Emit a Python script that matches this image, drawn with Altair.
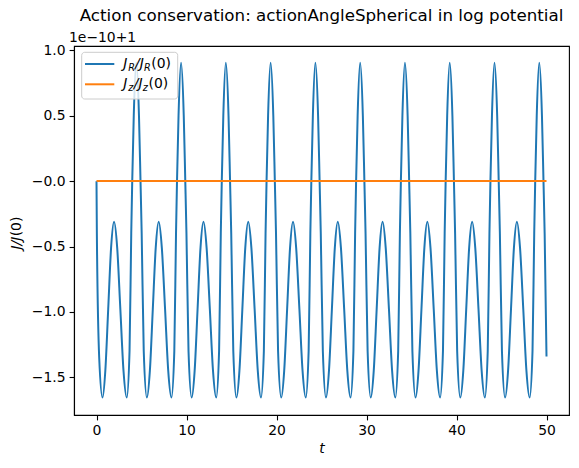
import altair as alt
import pandas as pd

# ---- data (y in units of 1e-10, offset +1) ----
t_R = [
    0.0, 0.04, 0.30, 0.67, 0.98, 1.30, 1.62, 1.95, 2.30, 2.65, 3.00, 3.36, 3.67, 3.86, 3.97, 4.14,
    4.42, 4.72, 4.89, 5.02, 5.25, 5.60, 5.93, 6.255, 6.58, 6.91, 7.26, 7.62, 7.97, 8.325, 8.645, 8.835, 8.945, 9.115,
    9.395, 9.695, 9.865, 9.995, 10.225, 10.575, 10.905, 11.23, 11.555, 11.885, 12.235, 12.595, 12.945, 13.30, 13.62, 13.81, 13.92, 14.09,
    14.37, 14.67, 14.84, 14.97, 15.20, 15.55, 15.88, 16.205, 16.53, 16.86, 17.21, 17.57, 17.92, 18.275, 18.595, 18.785, 18.895, 19.065,
    19.345, 19.645, 19.815, 19.945, 20.175, 20.525, 20.855, 21.18, 21.505, 21.835, 22.185, 22.545, 22.895, 23.25, 23.57, 23.76, 23.87, 24.04,
    24.32, 24.62, 24.79, 24.92, 25.15, 25.50, 25.83, 26.155, 26.48, 26.81, 27.16, 27.52, 27.87, 28.225, 28.545, 28.735, 28.845, 29.015,
    29.295, 29.595, 29.765, 29.895, 30.125, 30.475, 30.805, 31.13, 31.455, 31.785, 32.135, 32.495, 32.845, 33.20, 33.52, 33.71, 33.82, 33.99,
    34.27, 34.57, 34.74, 34.87, 35.10, 35.45, 35.78, 36.105, 36.43, 36.76, 37.11, 37.47, 37.82, 38.175, 38.495, 38.685, 38.795, 38.965,
    39.245, 39.545, 39.715, 39.845, 40.075, 40.425, 40.755, 41.08, 41.405, 41.735, 42.085, 42.445, 42.795, 43.15, 43.47, 43.66, 43.77, 43.94,
    44.22, 44.52, 44.69, 44.82, 45.05, 45.40, 45.73, 46.055, 46.38, 46.71, 47.06, 47.42, 47.77, 48.125, 48.445, 48.635, 48.745, 48.915,
    49.195, 49.495, 49.665, 49.795, 50.0,
]
J_R = [
    0.0, -0.40, -1.35, -1.655, -1.45, -0.98, -0.51, -0.31, -0.51, -0.98, -1.45, -1.655, -1.30, -0.40, 0.0, 0.50,
    0.905, 0.50, 0.0, -0.40, -1.30, -1.655, -1.45, -0.98, -0.51, -0.31, -0.51, -0.98, -1.45, -1.655, -1.30, -0.40, 0.0, 0.50,
    0.905, 0.50, 0.0, -0.40, -1.30, -1.655, -1.45, -0.98, -0.51, -0.31, -0.51, -0.98, -1.45, -1.655, -1.30, -0.40, 0.0, 0.50,
    0.905, 0.50, 0.0, -0.40, -1.30, -1.655, -1.45, -0.98, -0.51, -0.31, -0.51, -0.98, -1.45, -1.655, -1.30, -0.40, 0.0, 0.50,
    0.905, 0.50, 0.0, -0.40, -1.30, -1.655, -1.45, -0.98, -0.51, -0.31, -0.51, -0.98, -1.45, -1.655, -1.30, -0.40, 0.0, 0.50,
    0.905, 0.50, 0.0, -0.40, -1.30, -1.655, -1.45, -0.98, -0.51, -0.31, -0.51, -0.98, -1.45, -1.655, -1.30, -0.40, 0.0, 0.50,
    0.905, 0.50, 0.0, -0.40, -1.30, -1.655, -1.45, -0.98, -0.51, -0.31, -0.51, -0.98, -1.45, -1.655, -1.30, -0.40, 0.0, 0.50,
    0.905, 0.50, 0.0, -0.40, -1.30, -1.655, -1.45, -0.98, -0.51, -0.31, -0.51, -0.98, -1.45, -1.655, -1.30, -0.40, 0.0, 0.50,
    0.905, 0.50, 0.0, -0.40, -1.30, -1.655, -1.45, -0.98, -0.51, -0.31, -0.51, -0.98, -1.45, -1.655, -1.30, -0.40, 0.0, 0.50,
    0.905, 0.50, 0.0, -0.40, -1.30, -1.655, -1.45, -0.98, -0.51, -0.31, -0.51, -0.98, -1.45, -1.655, -1.30, -0.40, 0.0, 0.50,
    0.905, 0.50, 0.0, -0.40, -1.34,
]
t_z = [0.0, 50.0]
J_z = [0.0, 0.0]

series_names = ["J_R/J_R(0)", "J_z/J_z(0)"]
series_colors = ["#1f77b4", "#ff7f0e"]
x_ticks = [0, 10, 20, 30, 40, 50]
y_ticks = [-1.5, -1.0, -0.5, 0.0, 0.5, 1.0]
title_text = "Action conservation: actionAngleSpherical in log potential"
offset_text = "1e\u221210+1"

FONT = "DejaVu Sans"
FS = 13.9
W, H = 495, 369

df_R = pd.DataFrame({"t": t_R, "J": J_R, "series": series_names[0]})
df_z = pd.DataFrame({"t": t_z, "J": J_z, "series": series_names[1]})
dummy = pd.DataFrame({"a": [0]})

x_scale = alt.Scale(domain=[-2.5, 52.5], nice=False, zero=False)
y_scale = alt.Scale(domain=[-1.788, 1.033], nice=False, zero=False)

x_axis = alt.Axis(values=x_ticks, title="t", titleFontStyle="italic", titleFontWeight="normal",
                  titleFontSize=FS, titleFont=FONT, titlePadding=4, labelPadding=4,
                  format="d")
y_axis = alt.Axis(values=y_ticks, title=None, labelPadding=4,
                  labelExpr="datum.value == 0 ? '\u22120.0' : replace(format(datum.value, '.1f'), '-', '\u2212')")

line_R = alt.Chart(df_R).mark_line(color=series_colors[0], strokeWidth=2, interpolate="monotone").encode(
    x=alt.X("t:Q", scale=x_scale, axis=x_axis),
    y=alt.Y("J:Q", scale=y_scale, axis=y_axis),
)
line_z = alt.Chart(df_z).mark_line(color=series_colors[1], strokeWidth=2).encode(
    x=alt.X("t:Q", scale=x_scale, axis=x_axis),
    y=alt.Y("J:Q", scale=y_scale, axis=y_axis),
)

def txt(s, x, y, size=FS, style="normal", dy=0, angle=0, align="left", baseline="alphabetic"):
    kw = dict(font=FONT, fontSize=size, fontStyle=style, color="black", align=align,
              baseline=baseline, dy=dy)
    if angle:
        kw["angle"] = angle
    return alt.Chart(dummy).mark_text(**kw).encode(
        x=alt.value(x), y=alt.value(y), text=alt.value(s))

# legend box and handles
legend_box = alt.Chart(dummy).mark_rect(fill="white", fillOpacity=0.8, stroke="#cccccc",
                                        strokeWidth=1, cornerRadius=3).encode(
    x=alt.value(7.7), x2=alt.value(103.7), y=alt.value(6.3), y2=alt.value(53))
h1 = alt.Chart(dummy).mark_rule(color=series_colors[0], strokeWidth=2).encode(
    x=alt.value(11), x2=alt.value(40.3), y=alt.value(18))
h2 = alt.Chart(dummy).mark_rule(color=series_colors[1], strokeWidth=2).encode(
    x=alt.value(11), x2=alt.value(40.3), y=alt.value(38.3))

SUB = 9.7
r1, r2 = 22, 42.3
leg_text = [
    txt("J", 49.3, r1, style="italic"),
    txt("R", 54.3, r1, size=SUB, style="italic", dy=3),
    txt("/J", 61.0, r1, style="italic"),
    txt("R", 70.0, r1, size=SUB, style="italic", dy=3),
    txt("(0)", 77.3, r1),
    txt("J", 49.3, r2, style="italic"),
    txt("z", 54.3, r2, size=SUB, style="italic", dy=3),
    txt("/J", 59.8, r2, style="italic"),
    txt("z", 68.8, r2, size=SUB, style="italic", dy=3),
    txt("(0)", 74.5, r2),
]

# y-axis title J/J(0) (rotated) and offset text
ytitle = [
    txt("J/J", -53.5, 203.5, style="italic", angle=270),
    txt("(0)", -53.5, 190.3, angle=270),
]
offset = txt(offset_text, -5, -4.5)

chart = alt.layer(line_R, line_z, legend_box, h1, h2, *leg_text, *ytitle, offset).properties(
    width=W, height=H,
    title=alt.TitleParams(text=title_text, font=FONT, fontSize=16.7, fontWeight="normal",
                          color="black", anchor="middle", frame="group", offset=6),
    autosize=alt.AutoSizeParams(type="none"),
    padding={"left": 74, "top": 46, "right": 10, "bottom": 53},
).configure(font=FONT).configure_view(
    stroke="black", strokeWidth=1.1
).configure_axis(
    labelFont=FONT, labelFontSize=FS, labelColor="black", tickColor="black", domainColor="black",
    tickSize=4.9, tickWidth=1.1, domainWidth=1.1, grid=False, titleColor="black",
)

chart.save("out.html", embed_options={"renderer": "svg", "actions": False})
